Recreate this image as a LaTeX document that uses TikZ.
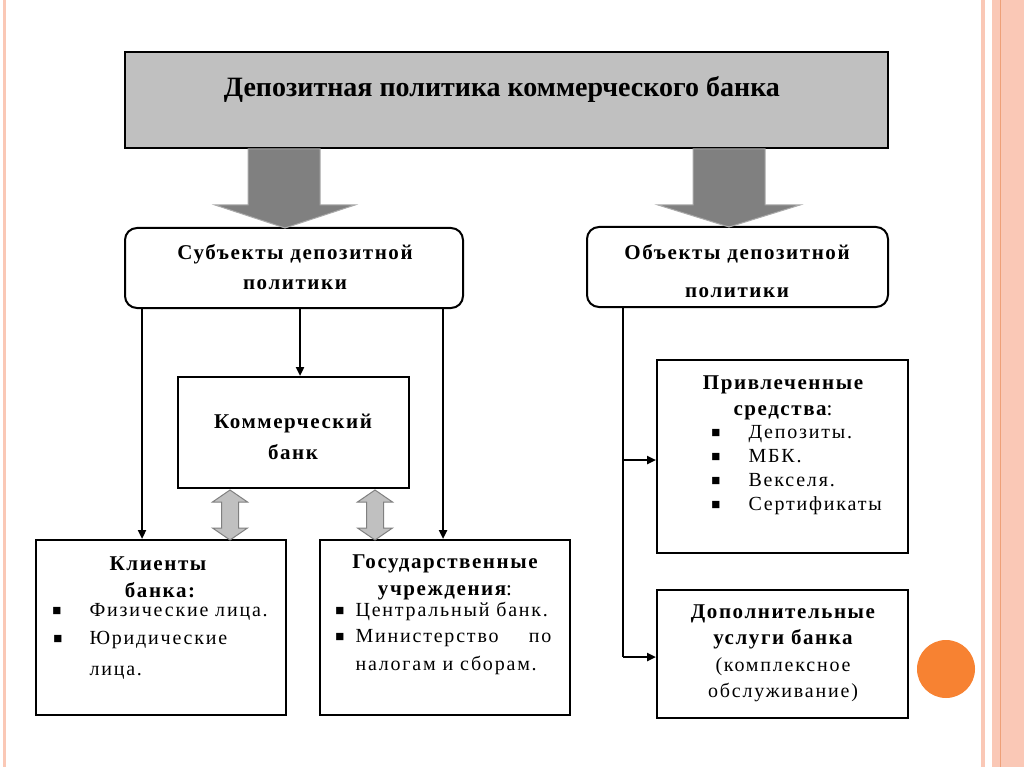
\documentclass[tikz,border=0pt]{standalone}
\usepackage{fontspec}
\setmainfont{Liberation Serif}
\usetikzlibrary{arrows.meta,calc}
\definecolor{pinkb}{RGB}{250,200,182}
\definecolor{pinkd}{RGB}{238,160,120}
\definecolor{orangec}{RGB}{247,130,50}
\definecolor{titlegray}{RGB}{192,192,192}
\definecolor{bigarrow}{RGB}{128,128,128}
\definecolor{bigedge}{RGB}{170,170,170}
\tikzset{
  box/.style={draw=black, line width=2pt, inner sep=0pt},
  rbox/.style={box, rounded corners=12pt},
  arr/.style={line width=2.6pt, -{Triangle[length=9pt,width=8pt]}},
  plainline/.style={line width=2.6pt},
  bigarr/.style={fill=bigarrow, draw=bigedge, line width=1pt},
  dblarr/.style={fill=titlegray, draw=bigarrow, line width=1pt},
  ttl/.style={font=\bfseries\fontsize{28}{32}\selectfont, anchor=base},
  hd/.style={font=\bfseries\fontsize{21}{24}\selectfont\addfontfeature{LetterSpace=7.5}, anchor=base},
  tx/.style={font=\fontsize{20}{22}\selectfont\addfontfeature{LetterSpace=9}, anchor=base west},
  txc/.style={font=\fontsize{20}{22}\selectfont\addfontfeature{LetterSpace=9}, anchor=base},
  bul/.style={font=\fontsize{15}{16}\selectfont, anchor=base}
}
\begin{document}
\begin{tikzpicture}[x=1pt,y=-1pt]
\useasboundingbox (0,0) rectangle (1024,767);
\fill[white] (0,0) rectangle (1024,767);
% slide frame decoration
\fill[pinkb] (3,0) rectangle (6,767);
\fill[pinkb] (981,0) rectangle (985,767);
\fill[pinkb] (992,0) rectangle (1024,767);
\draw[pinkd, line width=1pt] (1000,0) -- (1000,767);
\fill[orangec] (946,669) circle (29);

% boxes
\node[box, fill=titlegray, minimum width=763, minimum height=96] (title) at (506.5,100) {};
\node[rbox, fill=white, minimum width=338, minimum height=80] (subj) at (294,268) {};
\node[rbox, fill=white, minimum width=301, minimum height=80] (obj) at (737.5,267) {};
\node[box, minimum width=231, minimum height=111] (bank) at (293.5,432.5) {};
\node[box, minimum width=250, minimum height=175] (clients) at (161,627.5) {};
\node[box, minimum width=250, minimum height=175] (gov) at (445,627.5) {};
\node[box, minimum width=251, minimum height=193] (attr) at (782.5,456.5) {};
\node[box, minimum width=251, minimum height=128] (add) at (782.5,654) {};

% big arrows
\draw[bigarr] (248,149) -- (248,205) -- (215,205) -- (285,228) -- (355,205) -- (320,205) -- (320,149) -- cycle;
\draw[bigarr] (693,149) -- (693,205) -- (658,205) -- (729,227) -- (800,205) -- (765,205) -- (765,149) -- cycle;

% double arrows
\foreach \cx in {230,375}{
  \draw[dblarr] (\cx,490) -- (\cx+17.5,502) -- (\cx+8.5,502) -- (\cx+8.5,528) -- (\cx+17.5,528)
    -- (\cx,540) -- (\cx-17.5,528) -- (\cx-8.5,528) -- (\cx-8.5,502) -- (\cx-17.5,502) -- cycle;
}

% connectors
\coordinate (xL) at (142,0);
\coordinate (xM) at (300,0);
\coordinate (xR) at (443,0);
\coordinate (j1) at (623,460);
\coordinate (j2) at (623,657);
\draw[arr] (subj.south -| xL) -- (clients.north -| xL);
\draw[arr] (subj.south -| xM) -- (bank.north -| xM);
\draw[arr] (subj.south -| xR) -- (gov.north -| xR);
\draw[plainline] (obj.south -| j1) -- (j2);
\draw[arr] (j1) -- (attr.west |- j1);
\draw[arr] (j2) -- (add.west |- j2);

% texts
\node[ttl] (t0) at (502,97) {Депозитная политика коммерческого банка};
\node[hd] (t1) at (295,259) {Субъекты депозитной};
\node[hd] (t2) at (295,289) {политики};
\node[hd] (t3) at (737,259) {Объекты депозитной};
\node[hd] (t4) at (737,297) {политики};
\node[hd] (t5) at (293,428) {Коммерческий};
\node[hd] (t6) at (293,459) {банк};

\node[hd] (c1) at (158,570) {Клиенты};
\node[hd] (c2) at (160,597) {банка:};
\node[bul] (cb1) at (57,615) {■};
\node[tx] (c3) at (86,616) {Физические лица.};
\node[bul] (cb2) at (58,643) {■};
\node[tx] (c4) at (86,644) {Юридические};
\node[tx] (c5) at (86,675) {лица.};

\node[hd] (g1) at (445,568) {Государственные};
\node[hd] (g2) at (445,595) {учреждения\mdseries:};
\node[bul] (gb1) at (340,615) {■};
\node[tx] (g3) at (352,616) {Центральный банк.};
\node[bul] (gb2) at (340,641) {■};
\node[tx] (g4) at (352,642) {Министерство};
\node[tx, anchor=base east] (g5) at (555,642) {по};
\node[tx] (g6) at (352,670) {налогам и сборам.};

\node[hd] (a1) at (783,389) {Привлеченные};
\node[hd] (a2) at (783,415) {средства\mdseries:};
\node[bul] (ab1) at (716,437) {■};
\node[tx] (a3) at (745,438) {Депозиты.};
\node[bul] (ab2) at (716,461) {■};
\node[tx] (a4) at (745,462) {МБК.};
\node[bul] (ab3) at (716,485) {■};
\node[tx] (a5) at (745,486) {Векселя.};
\node[bul] (ab4) at (716,509) {■};
\node[tx] (a6) at (745,510) {Сертификаты};

\node[hd] (d1) at (783,618) {Дополнительные};
\node[hd] (d2) at (783,644) {услуги банка};
\node[txc] (d3) at (783,671) {(комплексное};
\node[txc] (d4) at (783,697) {обслуживание)};
\end{tikzpicture}
\end{document}
